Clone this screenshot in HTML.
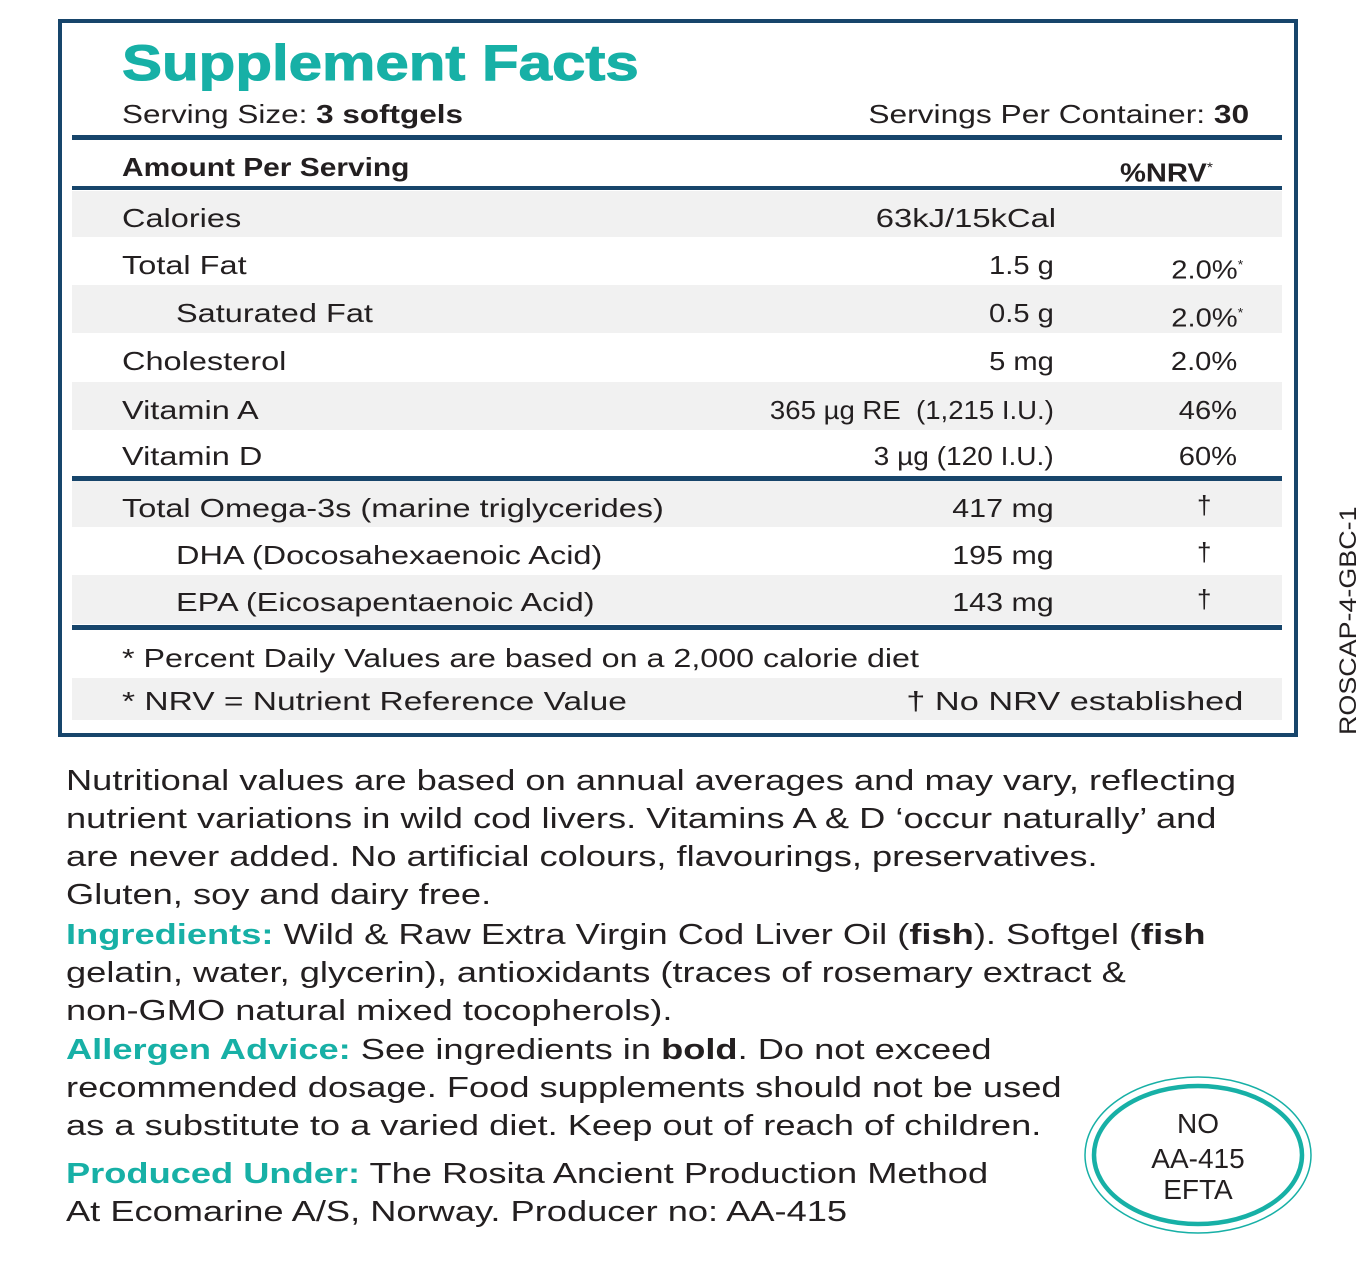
<!DOCTYPE html>
<html><head><meta charset="utf-8"><style>
body{margin:0;width:1356px;height:1265px;background:#fff;position:relative;font-family:"Liberation Sans",sans-serif;color:#231f20;overflow:hidden}
.a{position:absolute;white-space:nowrap}
.box{position:absolute;left:58px;top:19px;width:1232px;height:710px;border:4px solid #17456b}
.g{position:absolute;left:72px;width:1210px;background:#f1f1f1}
.l{position:absolute;left:72px;width:1210px;background:#17456b}
.t{font-size:26px;line-height:30px}
.s{transform:scaleX(1.25);transform-origin:0 0}
.sr{transform:scaleX(1.22);transform-origin:100% 0}
.n{transform:scaleX(1.12);transform-origin:100% 0}
.teal{color:#17b0a6;font-weight:bold}
.p{font-size:29px;line-height:38px;left:66px}
</style></head><body>
<div class="box"></div>
<div class="a teal" style="left:122px;top:34px;font-size:50px;line-height:58px;transform:scaleX(1.2);transform-origin:0 0;-webkit-text-stroke:1px #17b0a6">Supplement Facts</div>
<div class="a t s" style="left:122px;top:99px;transform:scaleX(1.21)">Serving Size: <b>3 softgels</b></div>
<div class="a t sr" style="right:107px;top:99px">Servings Per Container: <b>30</b></div>
<div class="l" style="top:135px;height:5px"></div>
<div class="a t s" style="left:122px;top:152px;transform:scaleX(1.15)"><b>Amount Per Serving</b></div>
<div class="a t" style="left:1120px;top:152px;transform:scaleX(1.12);transform-origin:0 0"><b>%NRV</b><sup style="font-size:14px">*</sup></div>
<div class="l" style="top:186px;height:4px"></div>
<div class="g" style="top:191px;height:46px"></div>
<div class="g" style="top:285px;height:48px"></div>
<div class="g" style="top:382px;height:48px"></div>
<div class="l" style="top:476px;height:5px"></div>
<div class="g" style="top:481px;height:46px"></div>
<div class="g" style="top:575px;height:49px"></div>
<div class="l" style="top:625px;height:5px"></div>
<div class="g" style="top:678px;height:42px"></div>

<div class="a t s" style="left:122px;top:203px">Calories</div><div class="a t sr" style="right:300px;top:203px;transform:scaleX(1.26)">63kJ/15kCal</div>
<div class="a t s" style="left:122px;top:250px">Total Fat</div><div class="a t n" style="right:302px;top:250px">1.5 g</div><div class="a t n" style="right:113px;top:250px">2.0%<sup style="font-size:13px">*</sup></div>
<div class="a t s" style="left:176px;top:298px">Saturated Fat</div><div class="a t n" style="right:302px;top:298px">0.5 g</div><div class="a t n" style="right:113px;top:298px">2.0%<sup style="font-size:13px">*</sup></div>
<div class="a t s" style="left:122px;top:346px">Cholesterol</div><div class="a t n" style="right:302px;top:346px">5 mg</div><div class="a t n" style="right:119px;top:346px">2.0%</div>
<div class="a t s" style="left:122px;top:395px">Vitamin A</div><div class="a t n" style="right:302px;top:395px;transform:scaleX(1.06)">365 µg RE &nbsp;(1,215 I.U.)</div><div class="a t n" style="right:119px;top:395px">46%</div>
<div class="a t s" style="left:122px;top:441px">Vitamin D</div><div class="a t n" style="right:302px;top:441px;transform:scaleX(1.08)">3 µg (120 I.U.)</div><div class="a t n" style="right:119px;top:441px">60%</div>
<div class="a t s" style="left:122px;top:493px">Total Omega-3s (marine triglycerides)</div><div class="a t n" style="right:302px;top:493px;transform:scaleX(1.17)">417 mg</div><div class="a t" style="left:1197px;top:490px">†</div>
<div class="a t s" style="left:176px;top:540px">DHA (Docosahexaenoic Acid)</div><div class="a t n" style="right:302px;top:540px;transform:scaleX(1.17)">195 mg</div><div class="a t" style="left:1197px;top:537px">†</div>
<div class="a t s" style="left:176px;top:587px">EPA (Eicosapentaenoic Acid)</div><div class="a t n" style="right:302px;top:587px;transform:scaleX(1.17)">143 mg</div><div class="a t" style="left:1197px;top:584px">†</div>
<div class="a t s" style="left:122px;top:643px;transform:scaleX(1.24)">* Percent Daily Values are based on a 2,000 calorie diet</div>
<div class="a t s" style="left:122px;top:686px;transform:scaleX(1.29)">* NRV = Nutrient Reference Value</div><div class="a t sr" style="right:113px;top:686px;transform:scaleX(1.32)">† No NRV established</div>
<div class="a" style="left:1336px;top:735px;transform:rotate(-90deg) scaleX(1.12);transform-origin:0 0;font-size:24px;line-height:26px">ROSCAP-4-GBC-1</div>

<div class="a p s" style="top:762px">Nutritional values are based on annual averages and may vary, reflecting<br>nutrient variations in wild cod livers. Vitamins A &amp; D ‘occur naturally’ and<br>are never added. No artificial colours, flavourings, preservatives.<br>Gluten, soy and dairy free.</div>
<div class="a p s" style="top:916px"><span class="teal">Ingredients:</span> Wild &amp; Raw Extra Virgin Cod Liver Oil (<b>fish</b>). Softgel (<b>fish</b><br>gelatin, water, glycerin), antioxidants (traces of rosemary extract &amp;<br>non-GMO natural mixed tocopherols).</div>
<div class="a p s" style="top:1031px"><span class="teal">Allergen Advice:</span> See ingredients in <b>bold</b>. Do not exceed<br>recommended dosage. Food supplements should not be used<br>as a substitute to a varied diet. Keep out of reach of children.</div>
<div class="a p s" style="top:1155px"><span class="teal">Produced Under:</span> The Rosita Ancient Production Method<br>At Ecomarine A/S, Norway. Producer no: AA-415</div>

<svg class="a" style="left:0;top:0" width="1356" height="1265">
<ellipse cx="1198" cy="1155" rx="113" ry="78" fill="none" stroke="#17b0a6" stroke-width="1.5"/>
<ellipse cx="1198" cy="1155" rx="104" ry="69" fill="none" stroke="#17b0a6" stroke-width="4.5"/>
<g font-family="Liberation Sans, sans-serif" font-size="28" fill="#231f20" text-anchor="middle">
<text x="1198" y="1133">NO</text><text x="1198" y="1168">AA-415</text><text x="1198" y="1199">EFTA</text></g>
</svg>
</body></html>
